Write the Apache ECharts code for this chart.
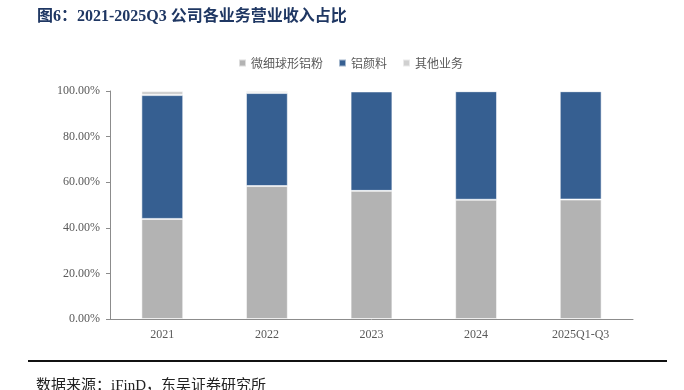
<!DOCTYPE html>
<html>
<head>
<meta charset="utf-8">
<script src="https://cdn.jsdelivr.net/npm/echarts@6/dist/echarts.min.js"></script>
<style>
  html,body{margin:0;padding:0;background:#fff;}
  #main{width:684px;height:390px;}
</style>
</head>
<body>
<div id="main"></div>
<script>
var years = ['2021', '2022', '2023', '2024', '2025Q1-Q3'];
var powderShare = [43.9, 58.3, 56.2, 52.3, 52.4];   // 微细球形铝粉
var pigmentShare = [54.3, 40.8, 43.6, 47.6, 47.5];  // 铝颜料
var otherShare = [1.8, 0.9, 0.2, 0.1, 0.1];         // 其他业务
var yTicks = [0, 20, 40, 60, 80, 100];

var serif = '"Liberation Serif", "Noto Sans CJK SC", serif';
var txtColor = '#595959';

var myChart = echarts.init(document.getElementById('main'));

function barSeries(name, data, color) {
  return {
    name: name,
    type: 'bar',
    stack: 'total',
    barWidth: '40%',
    data: data,
    itemStyle: {
      color: color,
      borderColor: 'rgba(255,255,255,0.55)',
      borderWidth: 1
    }
  };
}

var option = {
  animation: false,
  backgroundColor: '#fff',
  grid: { left: 110, right: 51, top: 91, bottom: 71 },
  legend: {
    top: 52,
    left: 233,
    icon: 'rect',
    itemWidth: 7,
    itemHeight: 7,
    itemGap: 15,
    textStyle: { color: txtColor, fontSize: 12, fontFamily: '"Noto Sans CJK SC", sans-serif' },
    data: ['微细球形铝粉', '铝颜料', '其他业务']
  },
  xAxis: {
    type: 'category',
    data: years,
    axisLine: { lineStyle: { color: '#8c8c8c' } },
    axisTick: { inside: true, length: 4, lineStyle: { color: '#8c8c8c' } },
    axisLabel: { color: txtColor, fontSize: 12, fontFamily: serif, margin: 10 }
  },
  yAxis: {
    type: 'value',
    min: yTicks[0],
    max: yTicks[yTicks.length - 1],
    interval: 20,
    axisLine: { show: true, lineStyle: { color: '#8c8c8c' } },
    axisTick: { show: true, length: 4, lineStyle: { color: '#8c8c8c' } },
    splitLine: { show: false },
    axisLabel: {
      color: txtColor, fontSize: 12, fontFamily: serif, margin: 10,
      formatter: function (v) { return v.toFixed(2) + '%'; }
    }
  },
  series: [
    barSeries('微细球形铝粉', powderShare, '#b3b3b3'),
    barSeries('铝颜料', pigmentShare, '#365f91'),
    barSeries('其他业务', otherShare, '#d0d0d0')
  ],
  graphic: [
    {
      type: 'text', left: 37, top: 9,
      style: {
        text: '图6：2021-2025Q3 公司各业务营业收入占比',
        fill: '#1f3763',
        font: 'bold 16px "Liberation Serif", "Noto Sans CJK SC", serif'
      }
    },
    {
      type: 'rect',
      shape: { x: 28, y: 360, width: 639, height: 2 },
      style: { fill: '#111' }
    },
    {
      type: 'text', left: 36, top: 379,
      style: {
        text: '数据来源：iFinD，东吴证券研究所',
        fill: '#222',
        font: '15px "Liberation Serif", "Noto Sans CJK SC", serif'
      }
    }
  ]
};
myChart.setOption(option);
</script>
</body>
</html>
